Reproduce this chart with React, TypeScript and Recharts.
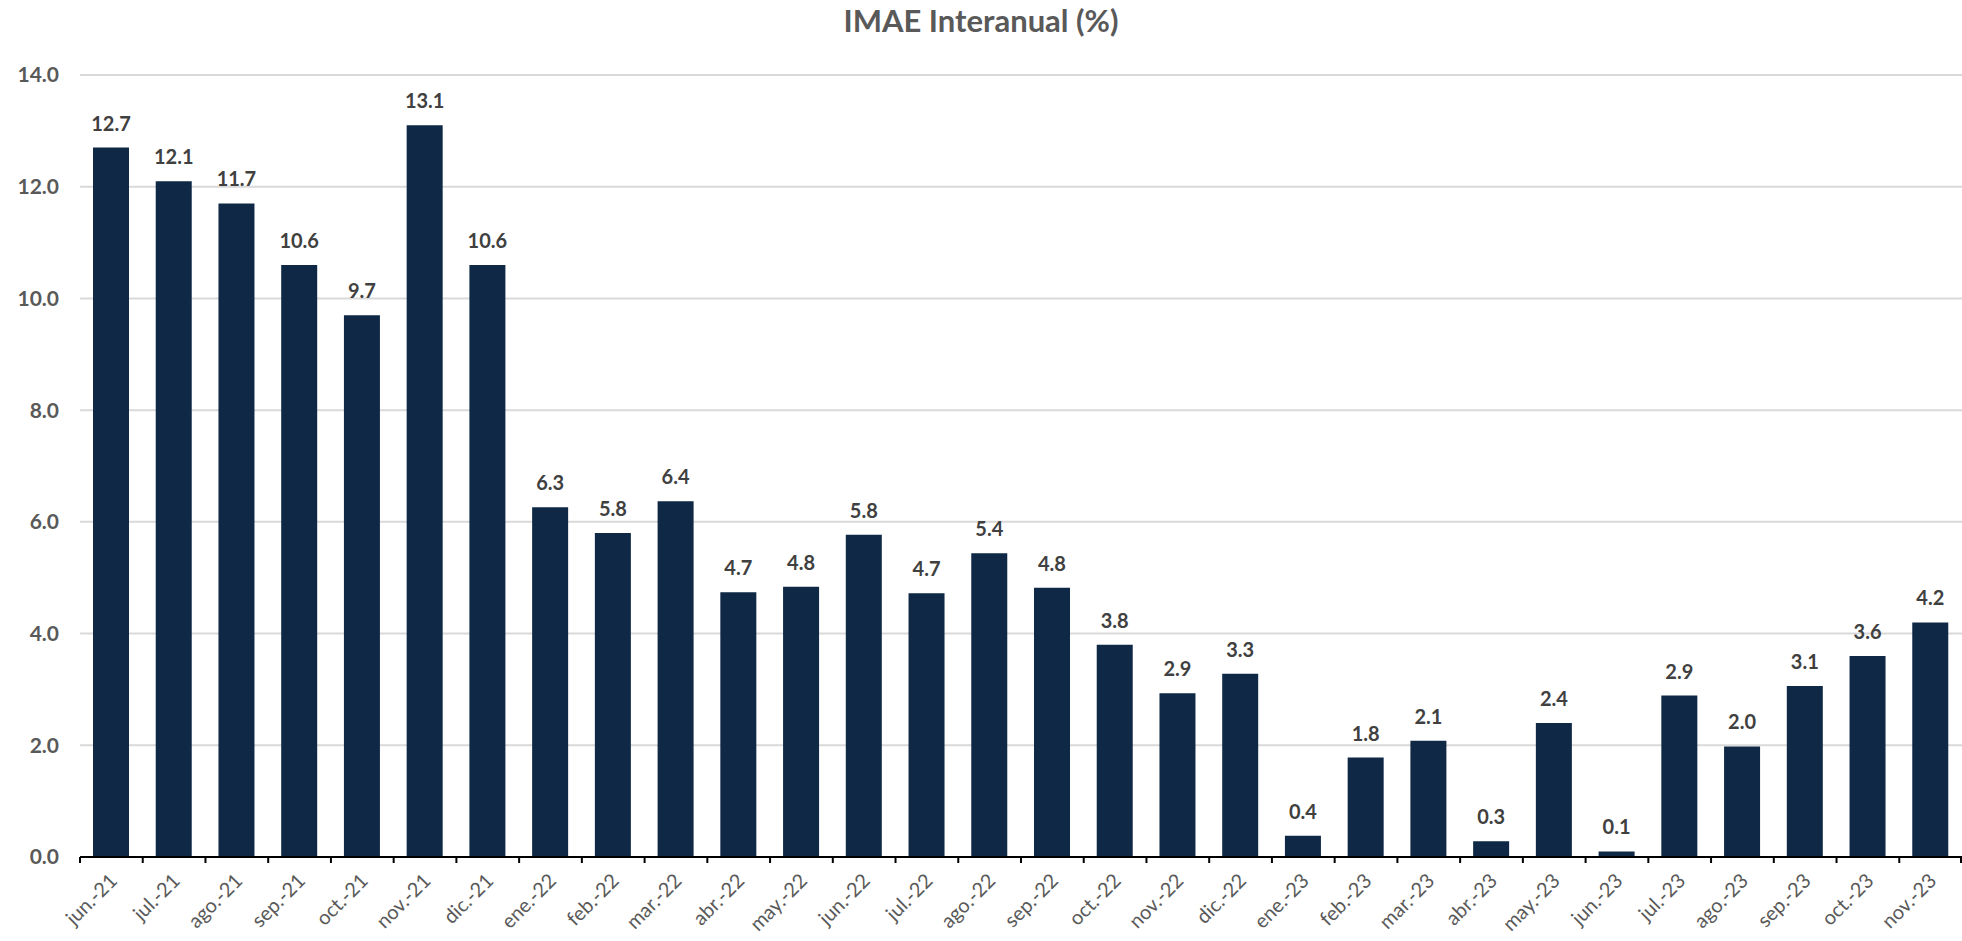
import { Bar, BarChart, CartesianGrid, LabelList, XAxis, YAxis } from "recharts";

const months = [
  "jun.-21", "jul.-21", "ago.-21", "sep.-21", "oct.-21", "nov.-21", "dic.-21",
  "ene.-22", "feb.-22", "mar.-22", "abr.-22", "may.-22", "jun.-22", "jul.-22",
  "ago.-22", "sep.-22", "oct.-22", "nov.-22", "dic.-22", "ene.-23", "feb.-23",
  "mar.-23", "abr.-23", "may.-23", "jun.-23", "jul.-23", "ago.-23", "sep.-23",
  "oct.-23", "nov.-23",
];

const imae = [
  12.7, 12.1, 11.7, 10.6, 9.7, 13.1, 10.6, 6.26, 5.8, 6.37, 4.74, 4.84, 5.77, 4.72,
  5.44, 4.82, 3.8, 2.93, 3.28, 0.38, 1.78, 2.08, 0.28, 2.4, 0.1, 2.89, 1.98, 3.06,
  3.6, 4.2,
];

const yTicks = [0, 2, 4, 6, 8, 10, 12, 14];

const W = 1962;
const H = 941;
const LEFT = 80;
const FONT = "Lato, 'Open Sans', sans-serif";
const BAR = "#0e2845";
const GREY = "#595959";

const half = (W - LEFT) / months.length / 2;

function MonthTick(props: any) {
  const { x, y, payload, index } = props;
  const tx = x + 7;
  const ty = y + 25;
  const last = index === months.length - 1;
  return (
    <g>
      <line x1={x - half} y1={y} x2={x - half} y2={y + 6} stroke="#000" strokeWidth={2} />
      {last && <line x1={x + half - 1} y1={y} x2={x + half - 1} y2={y + 6} stroke="#000" strokeWidth={2} />}
      <text
        x={tx}
        y={ty}
        textAnchor="end"
        fill={GREY}
        fontSize={20}
        fontFamily={FONT}
        transform={`rotate(-45, ${tx}, ${ty})`}
      >
        {payload.value}
      </text>
    </g>
  );
}

function ValueLabel(props: any) {
  const { x, y, width, value } = props;
  return (
    <text
      x={x + width / 2}
      y={y - 17}
      textAnchor="middle"
      fill="#404040"
      fontSize={20}
      fontWeight={700}
      fontFamily={FONT}
    >
      {Number(value).toFixed(1)}
    </text>
  );
}

export default function App() {
  const data = months.map((m, i) => ({ month: m, value: imae[i] }));
  return (
    <div style={{ position: "absolute", left: 0, top: 0, width: W, height: H, background: "#fff" }}>
      <div
        style={{
          position: "absolute",
          left: 0,
          top: 1,
          width: W,
          textAlign: "center",
          fontFamily: FONT,
          fontWeight: 700,
          fontSize: 31,
          color: GREY,
        }}
      >
        IMAE Interanual (%)
      </div>
      <BarChart width={W} height={H} data={data} margin={{ top: 75, right: 0, bottom: 0, left: 0 }}>
        <CartesianGrid vertical={false} stroke="#d9d9d9" strokeWidth={2} />
        <YAxis
          width={LEFT}
          domain={[0, 14]}
          ticks={yTicks}
          axisLine={false}
          tickLine={false}
          tickSize={0}
          tickMargin={21}
          tickFormatter={(v: number) => v.toFixed(1)}
          tick={{ fill: GREY, fontSize: 21, fontWeight: 700, fontFamily: FONT }}
        />
        <XAxis
          dataKey="month"
          height={84}
          interval={0}
          tickLine={false}
          tickSize={0}
          tickMargin={0}
          axisLine={{ stroke: "#000", strokeWidth: 2 }}
          tick={<MonthTick />}
        />
        <Bar dataKey="value" fill={BAR} barSize={36} isAnimationActive={false}>
          <LabelList dataKey="value" content={<ValueLabel />} />
        </Bar>
      </BarChart>
    </div>
  );
}
